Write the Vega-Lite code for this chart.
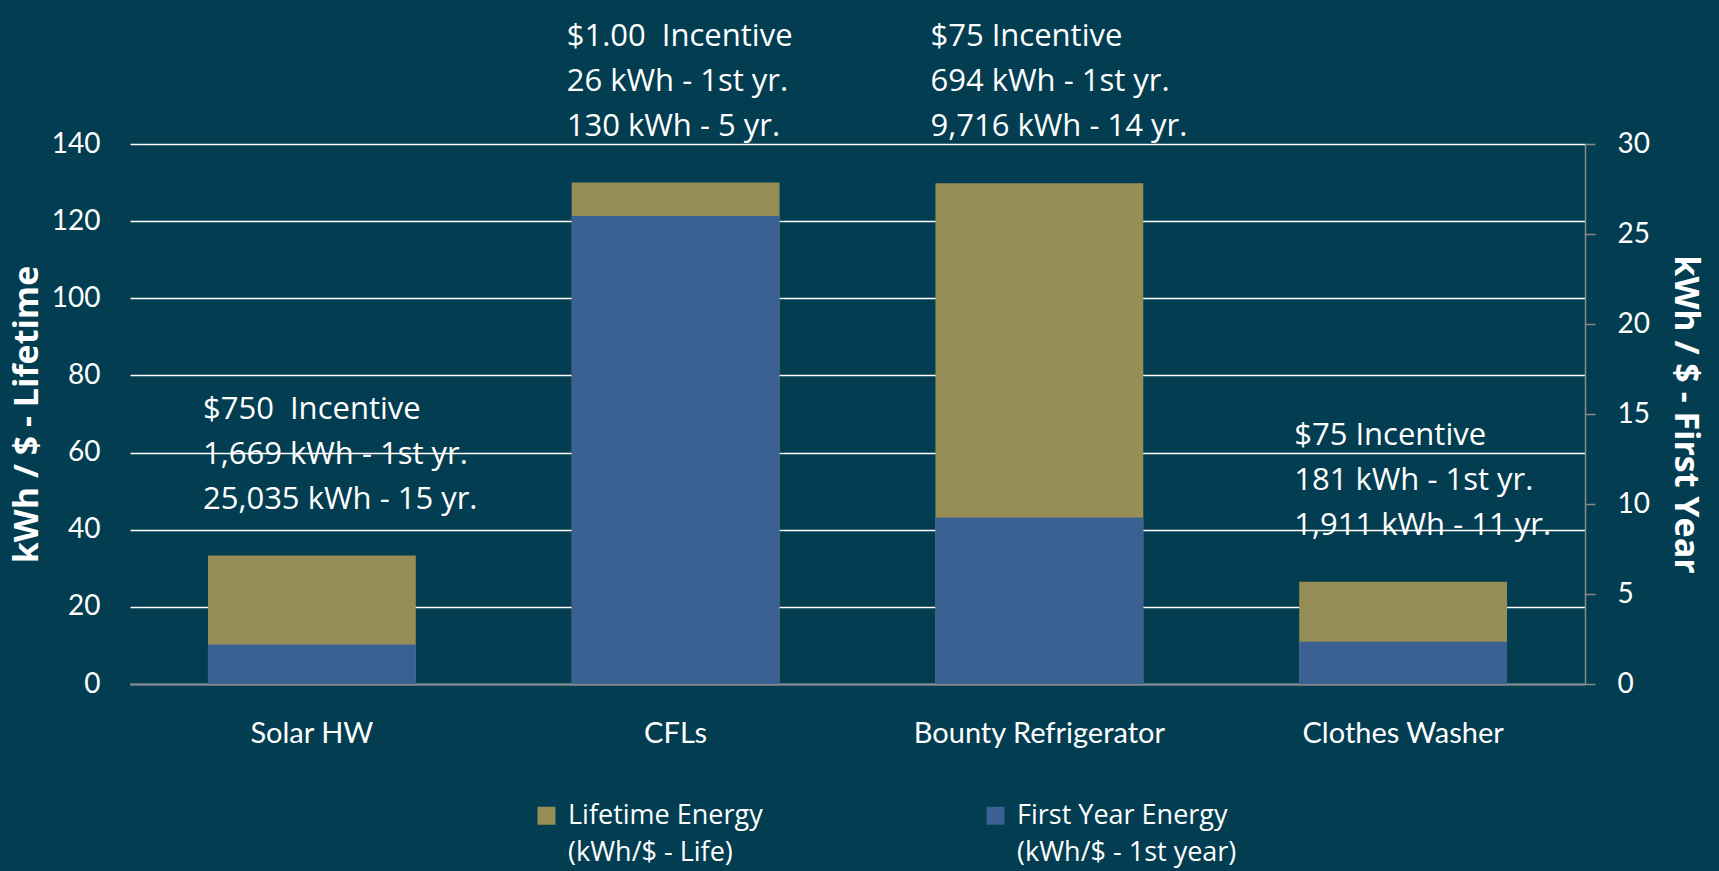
{
  "$schema": "https://vega.github.io/schema/vega-lite/v6.json",
  "width": 1455,
  "height": 540,
  "autosize": {"type": "none"},
  "padding": {"left": 130, "top": 144, "right": 134, "bottom": 187},
  "background": "#023d51",
  "config": {
    "view": {"stroke": null},
    "font": "Lato",
    "axis": {"labelColor": "#ffffff", "titleColor": "#ffffff", "labelFont": "Lato", "titleFont": "Open Sans"},
    "legend": {"labelColor": "#ffffff", "labelFont": "Open Sans"},
    "style": {"guide-label": {"lineHeight": 37}}
  },
  "data": {
    "values": [
      {"category": "Solar HW", "lifetime": 33.3, "firstYear": 2.2, "note": "$750\u00a0 Incentive|1,669 kWh - 1st yr.|25,035 kWh - 15 yr."},
      {"category": "CFLs", "lifetime": 130, "firstYear": 26, "note": "$1.00\u00a0 Incentive|26 kWh - 1st yr.|130 kWh - 5 yr."},
      {"category": "Bounty Refrigerator", "lifetime": 129.8, "firstYear": 9.25, "note": "$75 Incentive|694 kWh - 1st yr.|9,716 kWh - 14 yr."},
      {"category": "Clothes Washer", "lifetime": 26.5, "firstYear": 2.35, "note": "$75 Incentive|181 kWh - 1st yr.|1,911 kWh - 11 yr."}
    ]
  },
  "encoding": {
    "x": {
      "field": "category",
      "type": "nominal",
      "sort": null,
      "scale": {"paddingInner": 0.4286, "paddingOuter": 0.2143},
      "axis": {
        "title": null,
        "labelAngle": 0,
        "labelFontSize": 29,
        "labelPadding": 35,
        "labelLimit": 500,
        "ticks": false,
        "domain": true,
        "domainColor": "#8a8a8a",
        "domainWidth": 1.5
      }
    }
  },
  "layer": [
    {
      "mark": {"type": "bar"},
      "encoding": {
        "y": {
          "field": "lifetime",
          "type": "quantitative",
          "scale": {"domain": [0, 140], "nice": false},
          "axis": {
            "title": "kWh / $ - Lifetime",
            "titleFontSize": 34,
            "titleFontWeight": "bold",
            "titlePadding": 7,
            "values": [0, 20, 40, 60, 80, 100, 120, 140],
            "labelFontSize": 28,
            "labelPadding": 30,
            "ticks": false,
            "domain": false,
            "grid": true,
            "gridColor": "#ffffff",
            "gridWidth": 1.5
          }
        },
        "color": {
          "datum": "Lifetime Energy|(kWh/$ - Life)",
          "type": "nominal",
          "scale": {
            "domain": ["Lifetime Energy|(kWh/$ - Life)", "First Year Energy|(kWh/$ - 1st year)"],
            "range": ["#978d56", "#3a6192"]
          },
          "legend": {
            "title": null,
            "orient": "none",
            "legendX": 403,
            "legendY": 658,
            "direction": "horizontal",
            "columns": 2,
            "padding": 0,
            "symbolType": "square",
            "symbolSize": 324,
            "symbolStrokeWidth": 0,
            "symbolOpacity": 1,
            "labelFontSize": 27,
            "labelOffset": 8,
            "labelLimit": 400,
            "labelBaseline": "middle",
            "columnPadding": 219,
            "labelExpr": "split(datum.label, '|')"
          }
        }
      }
    },
    {
      "mark": {"type": "bar"},
      "encoding": {
        "y": {
          "field": "firstYear",
          "type": "quantitative",
          "scale": {"domain": [0, 30], "nice": false},
          "axis": {
            "orient": "right",
            "title": "kWh / $ - First Year",
            "titleFontSize": 34,
            "titleFontWeight": "bold",
            "titlePadding": 18,
            "values": [0, 5, 10, 15, 20, 25, 30],
            "labelFontSize": 28,
            "labelPadding": 22,
            "ticks": true,
            "tickSize": 10,
            "tickColor": "#8a8a8a",
            "tickWidth": 1.5,
            "domain": true,
            "domainColor": "#8a8a8a",
            "domainWidth": 1.5,
            "grid": false
          }
        },
        "color": {"datum": "First Year Energy|(kWh/$ - 1st year)", "type": "nominal"}
      }
    },
    {
      "mark": {
        "type": "text",
        "align": "left",
        "baseline": "bottom",
        "dy": -130,
        "dx": -5,
        "lineHeight": 45,
        "fontSize": 31,
        "color": "#ffffff",
        "font": "Open Sans"
      },
      "encoding": {
        "x": {"field": "category", "type": "nominal", "sort": null, "bandPosition": 0},
        "y": {
          "field": "lifetime",
          "type": "quantitative",
          "scale": {"domain": [0, 140], "nice": false},
          "axis": null
        },
        "text": {"field": "note_lines"}
      },
      "transform": [{"calculate": "split(datum.note, '|')", "as": "note_lines"}]
    }
  ],
  "resolve": {"scale": {"y": "independent"}}
}
